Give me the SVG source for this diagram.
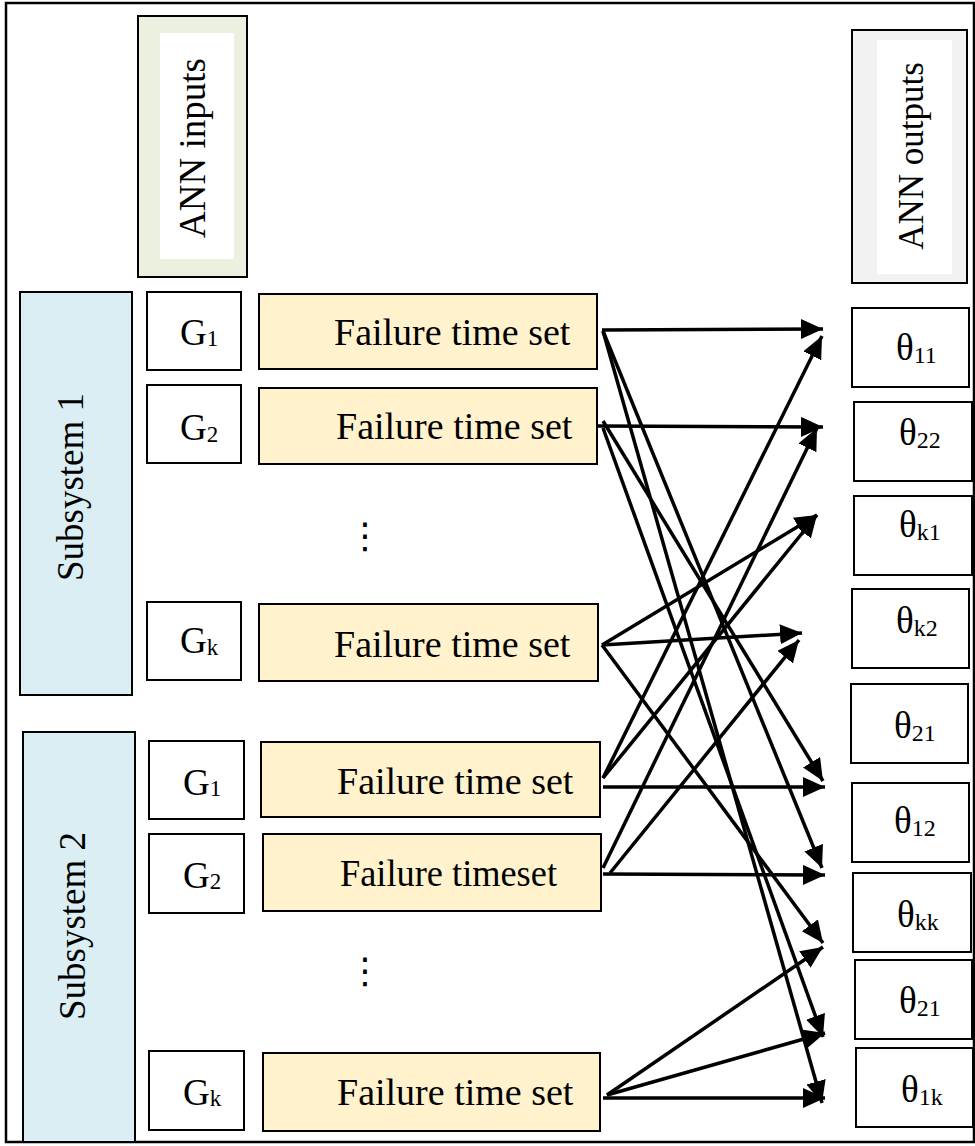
<svg xmlns="http://www.w3.org/2000/svg" width="975" height="1146" viewBox="0 0 975 1146">
<defs>
<style>
.bx{stroke:#000;stroke-width:2}
.g{fill:#fff}
.ft{fill:#FFF2CC}
.ss{fill:#DAEEF3}
.t{font-family:"Liberation Serif","Times New Roman",serif;fill:#000}
.cn{stroke:#000;stroke-width:3.5;fill:none;marker-end:url(#ah)}
</style>
<marker id="ah" markerUnits="userSpaceOnUse" markerWidth="24" markerHeight="22" refX="22" refY="10" orient="auto">
<path d="M0,0 L22,10 L0,20 z" fill="#000"/>
</marker>
</defs>
<rect x="6" y="3" width="968" height="1139" fill="#fff" stroke="#000" stroke-width="2.5"/>

<g id="ann-inputs">
<rect class="bx" x="138" y="16" width="109" height="261" fill="#EBF1DE"/>
<rect x="160" y="33" width="74" height="226" fill="#fff"/>
<text class="t" font-size="37" text-anchor="middle" transform="translate(205,148) rotate(-90)">ANN inputs</text>
</g>
<g id="ann-outputs">
<rect class="bx" x="852" y="30" width="115" height="253" fill="#F2F2F2"/>
<rect x="877" y="40" width="75" height="234" fill="#fff"/>
<text class="t" font-size="35" text-anchor="middle" transform="translate(923,156) rotate(-90)">ANN outputs</text>
</g>

<g id="subsystem1">
<rect class="bx ss" x="20" y="292" width="112" height="403"/>
<text class="t" font-size="37" text-anchor="middle" transform="translate(83,487) rotate(-90)">Subsystem 1</text>
</g>
<g id="subsystem2">
<rect class="bx ss" x="23" y="732" width="112" height="410"/>
<text class="t" font-size="37" text-anchor="middle" transform="translate(85,926) rotate(-90)">Subsystem 2</text>
</g>

<g id="s1-g1"><rect class="bx g" x="147" y="292" width="94" height="78"/><text class="t" x="180" y="345" font-size="37">G<tspan font-size="23" dy="1">1</tspan></text></g>
<g id="s1-g2"><rect class="bx g" x="147" y="385" width="94" height="78"/><text class="t" x="180" y="440" font-size="37">G<tspan font-size="23" dy="2">2</tspan></text></g>
<g id="s1-gk"><rect class="bx g" x="147" y="602" width="94" height="78"/><text class="t" x="180" y="653" font-size="37">G<tspan font-size="23" dy="2">k</tspan></text></g>
<g id="s2-g1"><rect class="bx g" x="149" y="741" width="95" height="78"/><text class="t" x="183" y="795" font-size="37">G<tspan font-size="23" dy="1">1</tspan></text></g>
<g id="s2-g2"><rect class="bx g" x="149" y="834" width="95" height="79"/><text class="t" x="183" y="888" font-size="37">G<tspan font-size="23" dy="1">2</tspan></text></g>
<g id="s2-gk"><rect class="bx g" x="149" y="1051" width="95" height="79"/><text class="t" x="183" y="1105" font-size="37">G<tspan font-size="23" dy="1">k</tspan></text></g>

<g id="s1-f1"><rect class="bx ft" x="259" y="294" width="338" height="75"/><text class="t" x="334" y="345" font-size="38">Failure time set</text></g>
<g id="s1-f2"><rect class="bx ft" x="259" y="388" width="338" height="76"/><text class="t" x="336" y="439" font-size="38">Failure time set</text></g>
<g id="s1-fk"><rect class="bx ft" x="259" y="604" width="339" height="77"/><text class="t" x="334" y="657" font-size="38">Failure time set</text></g>
<g id="s2-f1"><rect class="bx ft" x="261" y="742" width="339" height="75"/><text class="t" x="337" y="794" font-size="38">Failure time set</text></g>
<g id="s2-f2"><rect class="bx ft" x="263" y="834" width="338" height="77"/><text class="t" x="340" y="886" font-size="38" textLength="217" lengthAdjust="spacingAndGlyphs">Failure timeset</text></g>
<g id="s2-fk"><rect class="bx ft" x="263" y="1053" width="337" height="78"/><text class="t" x="337" y="1105" font-size="38">Failure time set</text></g>

<g id="dots1"><text x="365" y="548" font-family="DejaVu Sans, sans-serif" font-size="36" text-anchor="middle">⋮</text></g>
<g id="dots2"><text x="365" y="983" font-family="DejaVu Sans, sans-serif" font-size="36" text-anchor="middle">⋮</text></g>

<g id="o-11"><rect class="bx g" x="852" y="308" width="117" height="79"/><text class="t" x="896" y="360" font-size="37">θ<tspan font-size="24" dy="3">11</tspan></text></g>
<g id="o-22"><rect class="bx g" x="854" y="402" width="118" height="79"/><text class="t" x="899" y="445" font-size="37">θ<tspan font-size="24" dy="3">22</tspan></text></g>
<g id="o-k1"><rect class="bx g" x="854" y="496" width="118" height="79"/><text class="t" x="899" y="537" font-size="37">θ<tspan font-size="24" dy="3">k1</tspan></text></g>
<g id="o-k2"><rect class="bx g" x="852" y="589" width="117" height="79"/><text class="t" x="896" y="633" font-size="37">θ<tspan font-size="24" dy="3">k2</tspan></text></g>
<g id="o-21a"><rect class="bx g" x="851" y="684" width="117" height="79"/><text class="t" x="894" y="738" font-size="37">θ<tspan font-size="24" dy="3">21</tspan></text></g>
<g id="o-12"><rect class="bx g" x="852" y="783" width="117" height="79"/><text class="t" x="894" y="833" font-size="37">θ<tspan font-size="24" dy="3">12</tspan></text></g>
<g id="o-kk"><rect class="bx g" x="853" y="873" width="118" height="79"/><text class="t" x="897" y="927" font-size="37">θ<tspan font-size="24" dy="3">kk</tspan></text></g>
<g id="o-21b"><rect class="bx g" x="855" y="960" width="117" height="79"/><text class="t" x="899" y="1013" font-size="37">θ<tspan font-size="24" dy="3">21</tspan></text></g>
<g id="o-1k"><rect class="bx g" x="856" y="1048" width="117" height="79"/><text class="t" x="901" y="1102" font-size="37">θ<tspan font-size="24" dy="3">1k</tspan></text></g>

<g id="connectors">
<line class="cn" x1="602" y1="330" x2="823" y2="329"/>
<line class="cn" x1="603" y1="331" x2="822" y2="1103"/>
<line class="cn" x1="603" y1="331" x2="822" y2="868"/>
<line class="cn" x1="598" y1="426" x2="823" y2="427"/>
<line class="cn" x1="603" y1="421" x2="823" y2="781"/>
<line class="cn" x1="603" y1="428" x2="823" y2="1037"/>
<line class="cn" x1="602" y1="645" x2="817" y2="515"/>
<line class="cn" x1="602" y1="645" x2="802" y2="633"/>
<line class="cn" x1="602" y1="645" x2="823" y2="943"/>
<line class="cn" x1="603" y1="778" x2="822" y2="336"/>
<line class="cn" x1="603" y1="778" x2="817" y2="515"/>
<line class="cn" x1="603" y1="787" x2="825" y2="787"/>
<line class="cn" x1="603" y1="868" x2="817" y2="428"/>
<line class="cn" x1="610" y1="873" x2="799" y2="640"/>
<line class="cn" x1="603" y1="874" x2="825" y2="875"/>
<line class="cn" x1="607" y1="1095" x2="823" y2="947"/>
<line class="cn" x1="607" y1="1095" x2="825" y2="1033"/>
<line class="cn" x1="603" y1="1098" x2="825" y2="1098"/>
</g>
</svg>
